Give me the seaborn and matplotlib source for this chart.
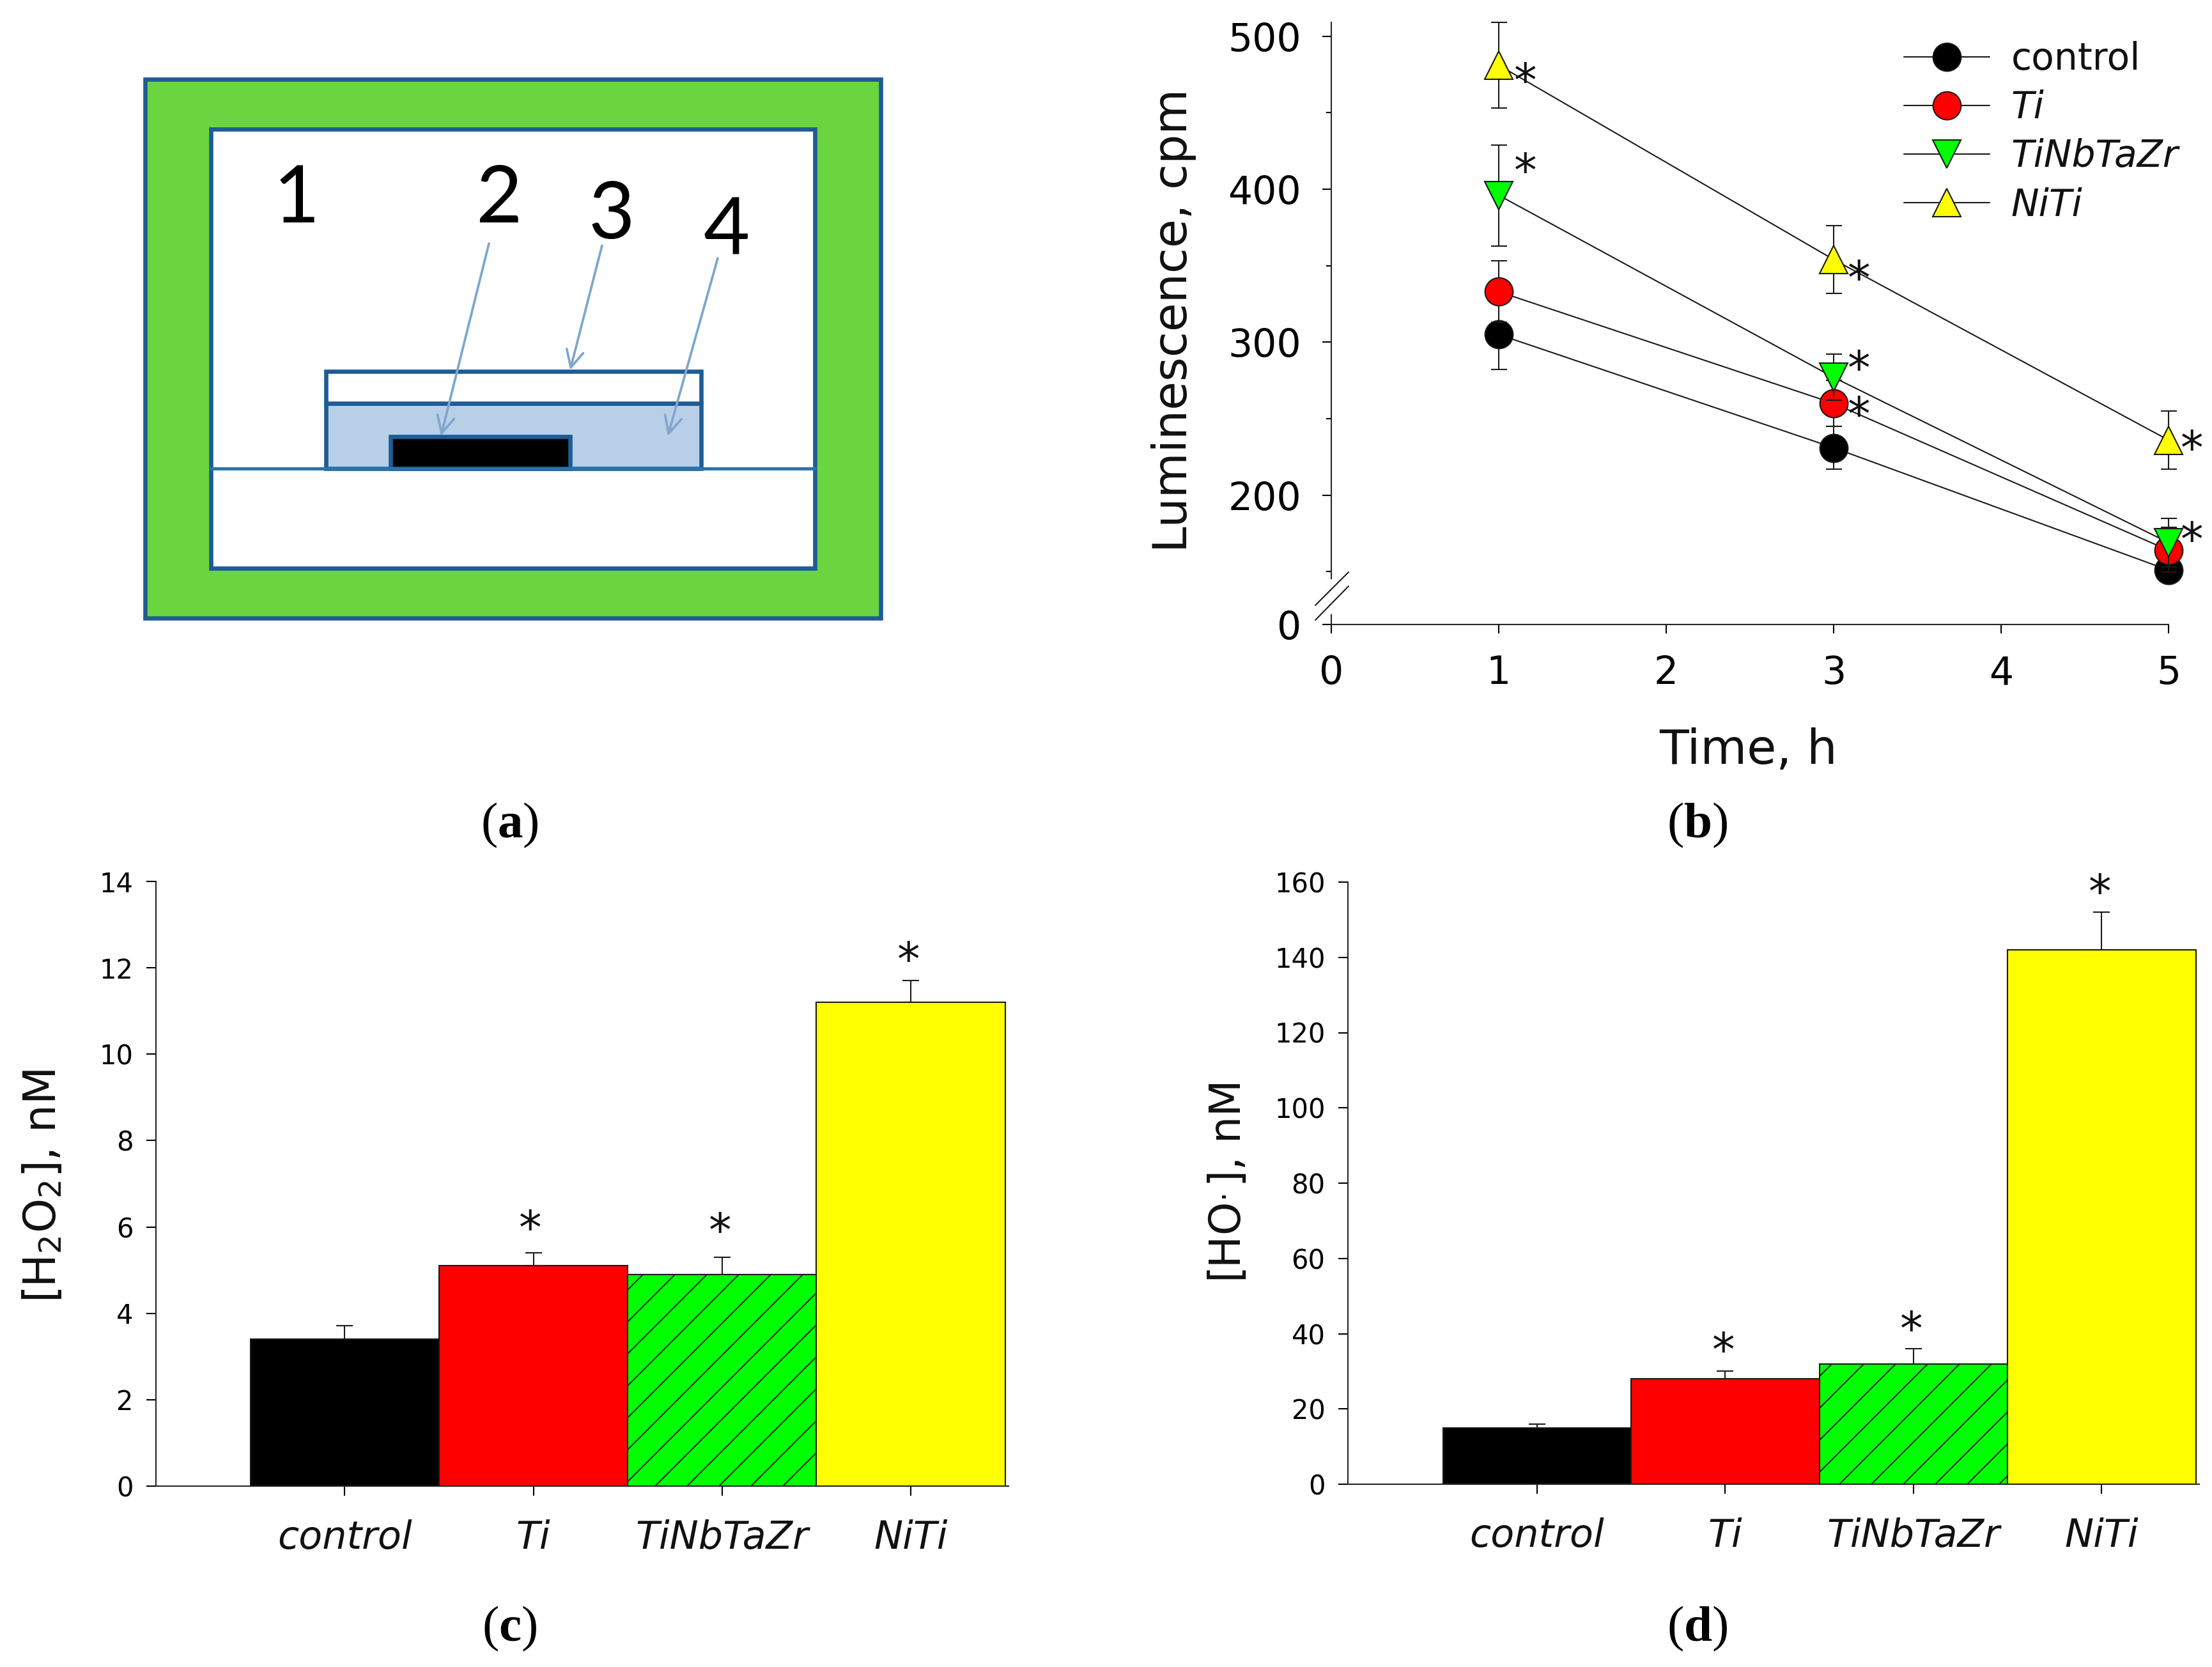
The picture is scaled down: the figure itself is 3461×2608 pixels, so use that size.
import numpy as np
import pandas as pd
import seaborn as sns
import matplotlib
matplotlib.use("Agg")
import matplotlib.pyplot as plt
from matplotlib.patches import Rectangle
from matplotlib.transforms import Affine2D
from matplotlib.ticker import FixedLocator, FixedFormatter, NullFormatter

W, H, DPI = 3462, 2608, 300

samples = ["control", "Ti", "TiNbTaZr", "NiTi"]
colors = ["#000000", "#ff0000", "#00ff00", "#ffff00"]
markers = ["o", "o", "v", "^"]

# panel b
times = [1, 3, 5]
lum_control = [305, 231, 151]
lum_ti = [333, 260, 164]
lum_tinb = [396, 277, 169]
lum_niti = [481, 354, 236]
err_control = [23, 14, 11]
err_ti = [20, 15, 15]
err_tinb = [33, 15, 16]
err_niti = [28, 22, 19]
stars_b_t = [1.16, 1.16, 3.15, 3.15, 3.15, 5.14, 5.14]
stars_b_v = [476, 417, 347, 288, 258, 236, 176]

# panel c
h2o2 = [3.4, 5.1, 4.9, 11.2]
h2o2_err = [0.32, 0.3, 0.4, 0.5]
stars_c_x = [0.985, 1.99, 2.99]
stars_c_v = [6.16, 6.1, 12.38]

# panel d
ho = [15, 28, 32, 142]
ho_err = [1, 2, 4, 10]
stars_d_x = [0.99, 1.99, 2.99]
stars_d_v = [37.8, 43.3, 159.6]

# panel a labels
schem_labels = ["1", "2", "3", "4"]
panel_labels = ["a", "b", "c", "d"]

sns.set_theme(style="ticks")
plt.rcParams.update({
    "font.family": ["DejaVu Sans"],
    "mathtext.fontset": "custom",
    "mathtext.rm": "Liberation Serif",
    "mathtext.bf": "Liberation Serif:bold",
    "mathtext.it": "Liberation Serif:italic",
    "hatch.linewidth": 0.45,
    "axes.linewidth": 0.5,
    "text.color": "#111111",
    "xtick.color": "#000000",
    "ytick.color": "#000000",
})

fig = plt.figure(figsize=(W / DPI, H / DPI), dpi=DPI, facecolor="white")
px = Affine2D().scale(1 / W, -1 / H).translate(0, 1) + fig.transFigure


def axes_px(l, t, r, b):
    return fig.add_axes([l / W, 1 - b / H, (r - l) / W, (b - t) / H])


# ---------- panel a (schematic) ----------
bg = fig.add_axes([0, 0, 1, 1], zorder=0)
bg.set_xlim(0, W)
bg.set_ylim(H, 0)
bg.axis("off")
blue = "#1f5c96"
bg.add_patch(Rectangle((227, 124), 1151, 843, fc="#6bd53f", ec=blue, lw=1.6))
bg.add_patch(Rectangle((330, 202), 945, 687, fc="white", ec=blue, lw=1.6))
bg.add_patch(Rectangle((510, 631), 587, 102, fc="#b8cfe8", ec=blue, lw=1.6))
bg.add_patch(Rectangle((510, 581), 587, 50, fc="white", ec=blue, lw=1.6))
bg.add_patch(Rectangle((611, 683), 281, 50, fc="black", ec=blue, lw=1.6))
bg.plot([330, 1275], [733, 733], color="#2a72ad", lw=1.2)
for s, (x, y) in zip(schem_labels, [(464, 313), (780, 313), (957, 338), (1137, 363)]):
    bg.text(x, y, s, fontsize=30, ha="center", va="center", family="Lato", color="#000000")
for (x0, y0), (x1, y1) in [((765, 381), (690, 682)), ((942, 384), (892, 579)), ((1123, 404), (1045, 682))]:
    bg.annotate("", xy=(x1, y1), xytext=(x0, y0),
                arrowprops=dict(arrowstyle="->", color="#7fa6cc", lw=0.9, mutation_scale=16,
                                shrinkA=0, shrinkB=0))


# ---------- panel b ----------
def fwd(y):
    y = np.asarray(y, dtype=float)
    return np.where(y >= 150, y, 115.5 + y * (150 - 115.5) / 150)


def inv(v):
    v = np.asarray(v, dtype=float)
    return np.where(v >= 150, v, (v - 115.5) * 150 / (150 - 115.5))


axb = axes_px(2083, 35, 3393, 977)
axb.patch.set_alpha(0)
lums = [lum_control, lum_ti, lum_tinb, lum_niti]
errs = [err_control, err_ti, err_tinb, err_niti]
for i, (name, col, mk, lum, er) in enumerate(zip(samples, colors, markers, lums, errs)):
    axb.errorbar(times, lum, yerr=er, fmt="none", ecolor="k", elinewidth=0.5,
                 capsize=3, capthick=0.5, zorder=3 + i, clip_on=False)
    sns.lineplot(x=times, y=lum, color="k", marker=mk, markerfacecolor=col,
                 markeredgecolor="k", markeredgewidth=0.5, markersize=10.5,
                 linewidth=0.5, label=name, errorbar=None, ax=axb, zorder=3 + i,
                 clip_on=False)
axb.set_yscale("function", functions=(fwd, inv))
axb.set_xlim(0, 5)
axb.set_ylim(0, 509)
axb.set_xticks(range(6))
axb.yaxis.set_major_locator(FixedLocator([0, 200, 300, 400, 500]))
axb.yaxis.set_major_formatter(FixedFormatter(["0", "200", "300", "400", "500"]))
axb.yaxis.set_minor_locator(FixedLocator([150, 250, 350, 450]))
axb.yaxis.set_minor_formatter(NullFormatter())
axb.tick_params(axis="both", which="major", length=3.3, width=0.5, labelsize=14.4, pad=8)
axb.tick_params(axis="y", which="minor", length=2, width=0.5, left=True)
sns.despine(ax=axb)
axb.set_xlabel("Time, h", fontsize=18, color="#111111", va="center")
axb.xaxis.set_label_coords(2736, 1174, transform=px)
axb.set_ylabel("Luminescence, cpm", fontsize=17.5, color="#111111", va="center")
axb.yaxis.set_label_coords(1837, 501, transform=px)
axb.plot([0, 0], [0.02, 0.072], transform=axb.transAxes, color="white", lw=1.4, clip_on=False, zorder=3)
for y0, y1 in [(0.032, 0.087), (0.0074, 0.0637)]:
    axb.plot([-0.019, 0.0206], [y0, y1], transform=axb.transAxes, color="k", lw=0.5, clip_on=False, zorder=4)
for t, v in zip(stars_b_t, stars_b_v):
    axb.annotate("*", (t, v), xytext=(0, -4), textcoords="offset points", fontsize=17,
                 ha="center", va="center", annotation_clip=False, zorder=10)
leg = axb.legend(frameon=False, fontsize=14, loc="upper left",
                 bbox_to_anchor=(2979, 64), bbox_transform=px, borderpad=0, borderaxespad=0,
                 handlelength=2.3, handletextpad=0.57, labelspacing=0.33)
for txt in leg.get_texts():
    txt.set_color("#111111")
    if txt.get_text() != "control":
        txt.set_fontstyle("italic")


# ---------- panels c, d ----------
def bars(ax, vals, er, ymax, yticks, star_x, star_v, ylabel, label_xy, xlim, label_fs):
    df = pd.DataFrame({"sample": samples, "value": vals})
    sns.barplot(data=df, x="sample", y="value", hue="sample", order=samples, hue_order=samples,
                palette=colors, width=1, saturation=1, edgecolor="k", linewidth=0.5,
                legend=False, ax=ax, zorder=2)
    for p in ax.patches:
        if abs(p.get_x() + p.get_width() / 2 - 2) < 0.01:
            p.set_hatch("//")
    ax.errorbar(range(4), vals, yerr=[[0] * 4, er], fmt="none", ecolor="k", elinewidth=0.5,
                capsize=3.2, capthick=0.5, zorder=1)
    ax.set_xlim(*xlim)
    ax.set_ylim(0, ymax)
    ax.set_yticks(yticks)
    ax.set_xticks(range(4))
    ax.set_xticklabels(samples, fontsize=14.5, fontstyle="italic", color="#111111")
    ax.tick_params(axis="y", length=3.5, width=0.5, labelsize=10, pad=5)
    ax.tick_params(axis="x", length=3.5, width=0.5, pad=9)
    sns.despine(ax=ax)
    ax.set_xlabel("")
    ax.set_ylabel(ylabel, fontsize=label_fs, color="#111111", va="center")
    ax.yaxis.set_label_coords(*label_xy, transform=px)
    for x, v in zip(star_x, star_v):
        ax.annotate("*", (x, v), xytext=(0, -4), textcoords="offset points", fontsize=17,
                    ha="center", va="center", annotation_clip=False, zorder=10)


lab_c = r"[H$_{\mathregular{2}}$O$_{\mathregular{2}}$], nM"
lab_d = r"[HO$^{\mathregular{.}}$], nM"

axc = axes_px(244, 1379, 1578, 2325)
axc.patch.set_alpha(0)
bars(axc, h2o2, h2o2_err, 14, list(range(0, 15, 2)), stars_c_x, stars_c_v, lab_c, (68, 1856),
     (-1.0, 3.518), 16.5)

axd = axes_px(2109, 1380, 3441, 2322)
axd.patch.set_alpha(0)
bars(axd, ho, ho_err, 160, list(range(0, 161, 20)), stars_d_x, stars_d_v, lab_d, (1922, 1850),
     (-1.005, 3.518), 16)

# ---------- panel letters ----------
for letter, (x, y) in zip(panel_labels, [(797, 1291), (2656, 1291), (797, 2548), (2656, 2548)]):
    fig.text(x, y, "($\\mathbf{" + letter + "}$)", transform=px, fontsize=19, ha="center", va="center",
             family="Liberation Serif", color="black")

fig.savefig("out.png", dpi=DPI)
